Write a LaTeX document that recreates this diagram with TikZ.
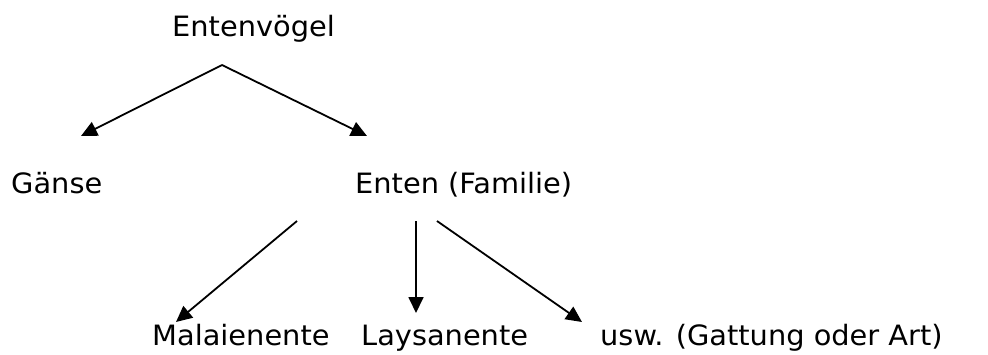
\documentclass[tikz,border=0pt]{standalone}
\usepackage{fontspec}
\setmainfont{DejaVu Sans}[FakeStretch=1.03]
\usetikzlibrary{arrows.meta}
\begin{document}
\begin{tikzpicture}[x=1pt,y=-1pt,
  lbl/.style={anchor=base west,inner sep=0pt,font=\fontsize{28}{33}\selectfont},
  conn/.style={line width=1.8pt,-{Triangle[length=16pt,width=15pt]}}]
\useasboundingbox (0,0) rectangle (988,354);
\node[lbl] (voegel) at (172,36) {Entenvögel};
\node[lbl] (gaense) at (11,193) {Gänse};
\node[lbl] (enten) at (355,193) {Enten (Familie)};
\node[lbl] (malaien) at (152,345) {Malaienente};
\node[lbl] (laysan) at (361,345) {Laysanente};
\node[lbl] (usw) at (600,345) {usw. (Gattung oder Art)};
\coordinate (apex) at (222,65);
\coordinate (gtip) at (81,136);
\coordinate (etip) at (367,136);
\coordinate (s1) at (297,221);
\coordinate (s2) at (416,221);
\coordinate (s3) at (437,221);
\coordinate (mtip) at (176,322);
\coordinate (ltip) at (416,313);
\coordinate (utip) at (582,322);
\draw[conn] (apex) -- (gtip);
\draw[conn] (apex) -- (etip);
\draw[conn] (s1) -- (mtip);
\draw[conn] (s2) -- (ltip);
\draw[conn] (s3) -- (utip);
\end{tikzpicture}
\end{document}
